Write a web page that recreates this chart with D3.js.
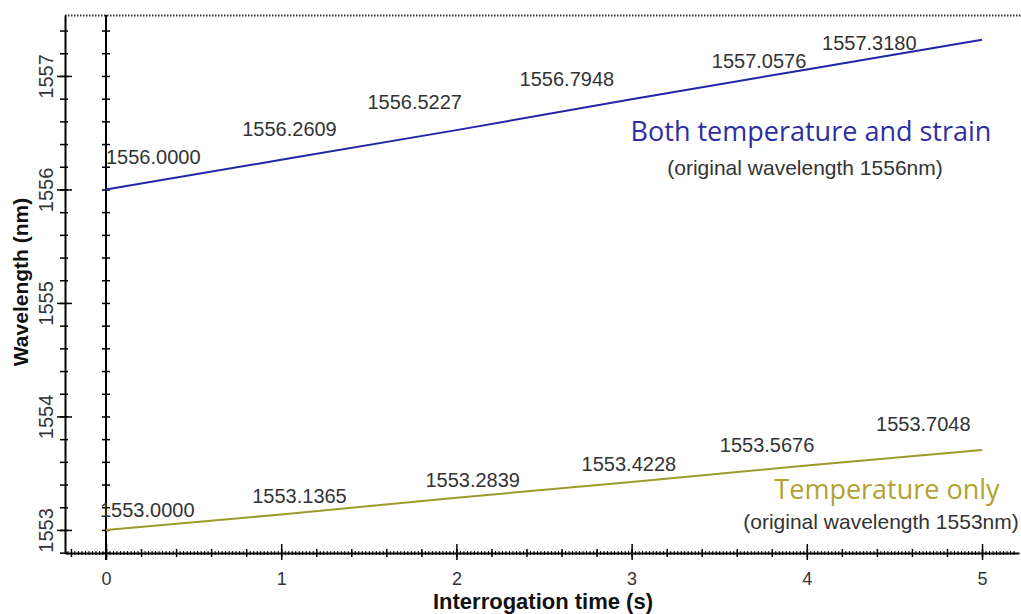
<!DOCTYPE html>
<html>
<head>
<meta charset="utf-8">
<script src="https://cdn.jsdelivr.net/npm/d3@7"></script>
<style>
  body { margin: 0; background: #fff; }
  svg { display: block; }
  .tick-label { font-family: "Liberation Sans", Arial, sans-serif; fill: #333; }
</style>
</head>
<body>
<div id="chart"></div>
<script>
// data
const times = [0, 1, 2, 3, 4, 5];
const strainValues = [1556.0000, 1556.2609, 1556.5227, 1556.7948, 1557.0576, 1557.3180];
const tempValues = [1553.0000, 1553.1365, 1553.2839, 1553.4228, 1553.5676, 1553.7048];
const xTicks = [0, 1, 2, 3, 4, 5];
const yTicks = [1553, 1554, 1555, 1556, 1557];

// label nudges (px) relative to each point, start-anchored baseline
const strainLabelOffsets = [[0, -25], [-39, -24], [-89, -21], [-112, -13], [-95, -1], [-160, 10]];
const tempLabelOffsets = [[-6, -13], [-29, -11], [-31, -11], [-50, -11], [-87, -14], [-106, -19]];

const width = 1021, height = 614;

const svg = d3.select("#chart").append("svg")
  .attr("width", width)
  .attr("height", height);

const x = d3.scaleLinear().domain([-0.234, 5.211]).range([65, 1019]);
const y = d3.scaleLinear().domain([1552.797, 1557.537]).range([553, 15]);

const fmt = d3.format(".4f");

// top dotted border
svg.append("line")
  .attr("x1", x.range()[0]).attr("x2", width)
  .attr("y1", y.range()[1] + 0.5).attr("y2", y.range()[1] + 0.5)
  .attr("stroke", "#333")
  .attr("stroke-width", 2)
  .attr("stroke-dasharray", "1.5,1.5");

// ---- left axis ----
const leftMinor = svg.append("g")
  .attr("transform", `translate(${x.range()[0]},0)`)
  .call(d3.axisLeft(y).tickValues(d3.range(1552.8, 1557.5, 0.2)).tickFormat(""));
leftMinor.select(".domain").remove();
leftMinor.selectAll(".tick line").attr("x1", -5).attr("x2", 3).attr("stroke-width", 1.5);

const leftAxis = svg.append("g")
  .attr("transform", `translate(${x.range()[0]},0)`)
  .call(d3.axisLeft(y).tickValues(yTicks).tickFormat(d3.format("d")).tickSizeOuter(0));
leftAxis.select(".domain").attr("stroke-width", 2);
leftAxis.selectAll(".tick line").attr("x1", -8).attr("x2", 7).attr("stroke-width", 1.5);
leftAxis.selectAll(".tick text")
  .attr("class", "tick-label")
  .attr("transform", "rotate(-90)")
  .attr("x", 0).attr("y", -12).attr("dy", 0)
  .attr("text-anchor", "middle")
  .style("font-size", "20px");

// ---- zero (time = 0) axis ----
const zeroAxis = svg.append("g")
  .attr("transform", `translate(${x(0)},0)`)
  .call(d3.axisLeft(y).tickValues(d3.range(1552.8, 1557.5, 0.2)).tickFormat("").tickSizeOuter(0));
zeroAxis.select(".domain").attr("d", `M0,${y.range()[1]}V${y.range()[0] + 7}`).attr("stroke-width", 2);
zeroAxis.selectAll(".tick line").attr("x1", -4).attr("x2", 4).attr("stroke-width", 1.5);

// ---- bottom axis ----
const tiny = svg.append("g")
  .attr("transform", `translate(0,${y.range()[0]})`)
  .call(d3.axisBottom(x).tickValues(d3.range(-0.22, 5.2, 0.02)).tickFormat(""));
tiny.select(".domain").remove();
tiny.selectAll(".tick line").attr("y1", -2).attr("y2", 2).attr("stroke-width", 1);

const bottomMinor = svg.append("g")
  .attr("transform", `translate(0,${y.range()[0]})`)
  .call(d3.axisBottom(x).tickValues(d3.range(-0.2, 5.2, 0.2)).tickFormat(""));
bottomMinor.select(".domain").remove();
bottomMinor.selectAll(".tick line").attr("y1", -4).attr("y2", 4).attr("stroke-width", 1.5);

const bottomAxis = svg.append("g")
  .attr("transform", `translate(0,${y.range()[0]})`)
  .call(d3.axisBottom(x).tickValues(xTicks).tickFormat(d3.format("d")).tickSizeOuter(0));
bottomAxis.select(".domain").attr("stroke-width", 2);
bottomAxis.selectAll(".tick line").attr("y1", -9).attr("y2", 7).attr("stroke-width", 1.5);
bottomAxis.selectAll(".tick text")
  .attr("class", "tick-label")
  .attr("y", 32).attr("dy", 0)
  .style("font-size", "18px");

// axis titles
svg.append("text")
  .attr("x", 543).attr("y", 609)
  .attr("text-anchor", "middle")
  .style("font-family", "Liberation Sans, Arial, sans-serif")
  .style("font-weight", "bold")
  .style("font-size", "22px")
  .attr("fill", "#111")
  .text("Interrogation time (s)");

svg.append("text")
  .attr("transform", "translate(28,282) rotate(-90)")
  .attr("text-anchor", "middle")
  .style("font-family", "Liberation Sans, Arial, sans-serif")
  .style("font-weight", "bold")
  .style("font-size", "21px")
  .attr("fill", "#111")
  .text("Wavelength (nm)");

// ---- series ----
const series = [
  { name: "strain", values: strainValues, color: "#2424a8", offsets: strainLabelOffsets },
  { name: "temp", values: tempValues, color: "#9c9a2c", offsets: tempLabelOffsets }
];

const line = d3.line()
  .x((d, i) => x(times[i]))
  .y(d => y(d));

series.forEach(s => {
  svg.append("path")
    .datum(s.values)
    .attr("fill", "none")
    .attr("stroke", s.color)
    .attr("stroke-width", 2)
    .attr("d", line);

  svg.append("g")
    .selectAll("text")
    .data(s.values)
    .join("text")
    .attr("class", "tick-label")
    .attr("x", (d, i) => x(times[i]) + s.offsets[i][0])
    .attr("y", (d, i) => y(d) + s.offsets[i][1])
    .style("font-size", "20px")
    .text(d => fmt(d));
});

// ---- annotations ----
svg.append("text")
  .attr("x", 811).attr("y", 141)
  .attr("text-anchor", "middle")
  .style("font-family", "Open Sans, Noto Sans, sans-serif")
  .style("font-size", "27px")
  .attr("fill", "#2e2ea0")
  .text("Both temperature and strain");

svg.append("text")
  .attr("class", "tick-label")
  .attr("x", 805).attr("y", 175)
  .attr("text-anchor", "middle")
  .style("font-size", "21px")
  .text("(original wavelength 1556nm)");

svg.append("text")
  .attr("x", 887).attr("y", 499)
  .attr("text-anchor", "middle")
  .style("font-family", "Open Sans, Noto Sans, sans-serif")
  .style("font-size", "27px")
  .attr("fill", "#b2a232")
  .text("Temperature only");

svg.append("text")
  .attr("class", "tick-label")
  .attr("x", 881).attr("y", 529)
  .attr("text-anchor", "middle")
  .style("font-size", "21px")
  .text("(original wavelength 1553nm)");
</script>
</body>
</html>
